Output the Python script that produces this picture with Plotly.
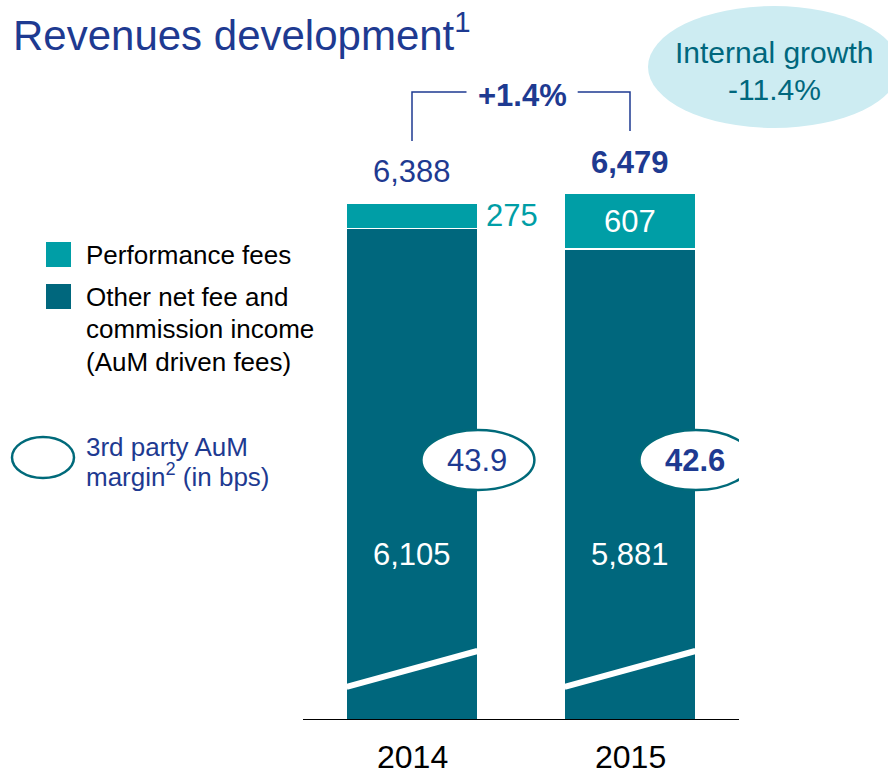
import plotly.graph_objects as go

# ---- data ----
years = ["2014", "2015"]
other_fees = [6105, 5881]
perf_fees = [275, 607]
totals = [6388, 6479]
margins_bps = [43.9, 42.6]
growth_total = "+1.4%"
internal_growth = "-11.4%"

# ---- style ----
C_PERF = "rgb(0,158,166)"
C_OTHER = "rgb(0,103,125)"
C_BLUE = "rgb(30,58,145)"
C_LIGHT = "rgb(205,236,242)"
C_RING = "rgb(0,106,122)"
FONT = "Liberation Sans, Arial, sans-serif"

W, H = 888, 773
ML, MR, MT, MB = 303, 149, 0, 54
Y_MIN, Y_MAX = 787, 8580
BAR_W = 0.6


def px(xp):
    return (xp - ML) / (W - ML - MR)


def py(yp):
    return (H - MB - yp) / (H - MB - MT)


fig = go.Figure()
fig.add_trace(go.Bar(x=years, y=other_fees, marker=dict(color=C_OTHER, line=dict(color="white", width=1.5)),
                     width=BAR_W, name="Other net fee and commission income", hoverinfo="skip"))
fig.add_trace(go.Bar(x=years, y=perf_fees, marker=dict(color=C_PERF, line=dict(color="white", width=1.5)),
                     width=BAR_W, name="Performance fees", hoverinfo="skip"))

shapes = []
ann = []

for i, yr in enumerate(years):
    top = other_fees[i] + perf_fees[i]
    total_txt = f"{totals[i]:,}"
    if i == 1:
        total_txt = f"<b>{total_txt}</b>"
    ann.append(dict(x=i, y=top, yshift=31, text=total_txt, showarrow=False,
                    font=dict(size=31, color=C_BLUE, family=FONT),
                    xanchor="center", yanchor="middle"))
    ann.append(dict(x=i, y=2565, text=f"{other_fees[i]:,}", showarrow=False,
                    font=dict(size=31, color="white", family=FONT), xanchor="center", yanchor="middle"))
    # category label under the axis
    ann.append(dict(x=i, xref="x", yref="paper", y=py(757), text=yr, showarrow=False,
                    font=dict(size=32, color="black", family=FONT), xanchor="center", yanchor="middle"))
    # axis-break mark
    shapes.append(dict(type="line", xref="x", yref="y", x0=i - BAR_W / 2, x1=i + BAR_W / 2,
                       y0=1134, y1=1524, line=dict(color="white", width=6), layer="above"))
    # margin ellipse
    shapes.append(dict(type="circle", xref="x", yref="y", xsizemode="pixel", ysizemode="pixel",
                       xanchor=i + BAR_W / 2, yanchor=3594, x0=-56, x1=57, y0=-30, y1=30,
                       fillcolor="white", line=dict(color=C_RING, width=2.5), layer="above"))
    ann.append(dict(x=i + BAR_W / 2, y=3594, text=(f"<b>{margins_bps[i]}</b>" if i == 1 else f"{margins_bps[i]}"),
                    showarrow=False, font=dict(size=31, color=C_BLUE, family=FONT),
                    xanchor="center", yanchor="middle"))

# performance fee labels
ann.append(dict(x=0 + BAR_W / 2, y=other_fees[0] + perf_fees[0] / 2, xshift=7, text=f"{perf_fees[0]}",
                showarrow=False, font=dict(size=31, color=C_PERF, family=FONT), xanchor="left", yanchor="middle"))
ann.append(dict(x=1, y=other_fees[1] + perf_fees[1] / 2, text=f"{perf_fees[1]}",
                showarrow=False, font=dict(size=31, color="white", family=FONT), xanchor="center", yanchor="middle"))

# bracket
t0 = other_fees[0] + perf_fees[0] + 672
t1 = other_fees[1] + perf_fees[1] + 672
ytop = 7583
shapes.append(dict(type="path", xref="x", yref="y",
                   path=f"M 0,{t0} L 0,{ytop} L 0.25,{ytop}", line=dict(color=C_BLUE, width=1.5)))
shapes.append(dict(type="path", xref="x", yref="y",
                   path=f"M 0.76,{ytop} L 1,{ytop} L 1,{t1}", line=dict(color=C_BLUE, width=1.5)))
ann.append(dict(x=0.505, y=ytop, yshift=-4, text=f"<b>{growth_total}</b>", showarrow=False,
                font=dict(size=31, color=C_BLUE, family=FONT), xanchor="center", yanchor="middle"))

# internal growth bubble
shapes.append(dict(type="circle", xref="paper", yref="paper", x0=px(648), x1=px(900), y0=py(128), y1=py(6),
                   fillcolor=C_LIGHT, line=dict(width=0), layer="below"))
ann.append(dict(xref="paper", yref="paper", x=px(774), y=py(53), text="Internal growth", showarrow=False,
                font=dict(size=30, color=C_OTHER, family=FONT), xanchor="center", yanchor="middle"))
ann.append(dict(xref="paper", yref="paper", x=px(774), y=py(90), text=internal_growth, showarrow=False,
                font=dict(size=30, color=C_OTHER, family=FONT), xanchor="center", yanchor="middle"))

# title
ann.append(dict(xref="paper", yref="paper", x=px(11), y=py(32), text="Revenues development<sup>1</sup>",
                showarrow=False, font=dict(size=42, color=C_BLUE, family=FONT), xanchor="left", yanchor="middle"))

# legend
shapes.append(dict(type="rect", xref="paper", yref="paper", x0=px(46), x1=px(71), y0=py(267), y1=py(242),
                   fillcolor=C_PERF, line=dict(width=0)))
shapes.append(dict(type="rect", xref="paper", yref="paper", x0=px(46), x1=px(71), y0=py(309), y1=py(284),
                   fillcolor=C_OTHER, line=dict(width=0)))
for txt, yy in [("Performance fees", 255), ("Other net fee and", 297), ("commission income", 329),
                ("(AuM driven fees)", 362)]:
    ann.append(dict(xref="paper", yref="paper", x=px(84), y=py(yy), text=txt, showarrow=False,
                    font=dict(size=26, color="black", family=FONT), xanchor="left", yanchor="middle"))
shapes.append(dict(type="circle", xref="paper", yref="paper", x0=px(12), x1=px(74), y0=py(478), y1=py(437),
                   fillcolor="white", line=dict(color=C_RING, width=2.5)))
for txt, yy in [("3rd party AuM", 447), ("margin<sup>2</sup> (in bps)", 476)]:
    ann.append(dict(xref="paper", yref="paper", x=px(84), y=py(yy), text=txt, showarrow=False,
                    font=dict(size=26, color=C_BLUE, family=FONT), xanchor="left", yanchor="middle"))

fig.update_layout(
    width=W, height=H, barmode="stack", showlegend=False,
    margin=dict(l=ML, r=MR, t=MT, b=MB, pad=0, autoexpand=False),
    paper_bgcolor="white", plot_bgcolor="rgba(0,0,0,0)",
    shapes=shapes, annotations=ann,
    xaxis=dict(type="category", range=[-0.5, 1.5], showline=True, linecolor="black", linewidth=1,
               ticks="", showgrid=False, zeroline=False, showticklabels=False, automargin=False),
    yaxis=dict(range=[Y_MIN, Y_MAX], visible=False, showgrid=False, zeroline=False, automargin=False),
)

fig.write_html("out.html", config={"displayModeBar": False},
               post_script="document.body.style.margin='0';document.body.style.overflow='hidden';")
